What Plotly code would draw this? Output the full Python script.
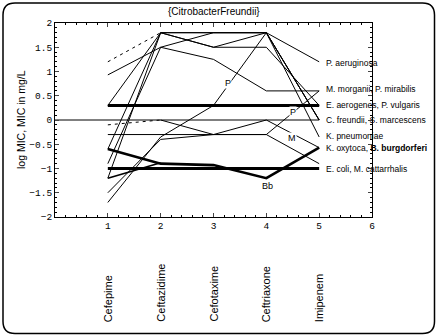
import plotly.graph_objects as go

# ---------------- data ----------------
DRUGS = ["Cefepime", "Ceftazidime", "Cefotaxime", "Ceftriaxone", "Imipenem"]
X_POS = [1, 2, 3, 4, 5]

# thick reference lines
E_AEROGENES_VULGARIS = [0.3, 0.3, 0.3, 0.3, 0.3]
E_COLI_CATARRHALIS = [-1.0, -1.0, -1.0, -1.0, -1.0]
B_BURGDORFERI = [-0.6, -0.9, -0.93, -1.2, -0.57]

# thin lines (log MIC per drug)
P_AERUGINOSA = [0.3, 1.8, 1.8, 1.8, 1.2]
C_FREUNDII = [-1.2, 1.8, 1.5, 1.8, 0.0]
S_MARCESCENS = [0.93, 1.5, 1.8, 1.8, 0.0]
P_VULGARIS = [-0.6, 1.8, 1.5, 1.5, 0.3]
M_MORGANII = [-0.9, 1.5, 1.25, 0.6, 0.6]
K_PNEUMONIAE = [None, 1.8, 1.8, 1.8, -0.35]
K_PNEUMONIAE_DASH = [1.2, 1.8, None, None, None]
K_OXYTOCA = [-0.3, -0.3, -0.3, -0.3, -0.9]
M_CATARRHALIS = [None, 0.0, -0.3, 0.0, -0.57]
M_CATARRHALIS_DASH = [-0.1, 0.0, None, None, None]
P_MIRABILIS = [-1.7, -0.35, 0.3, 1.8, 0.0]
P_MIRABILIS_2 = [-1.5, -0.4, -0.3, -0.3, 0.6]
E_COLI_THIN = [-1.2, -0.88, None, None, None]

ZERO_X = [0, 5]
ZERO_Y = [0, 0]

RIGHT_LABELS = ["P. aeruginosa", "M. morganii, P. mirabilis", "E. aerogenes, P. vulgaris",
                "C. freundii, S. marcescens", "K. pneumoniae",
                "K. oxytoca, <b>B. burgdorferi</b>", "E. coli, M. cattarrhalis"]
RIGHT_LABEL_Y = [1.18, 0.64, 0.3, 0.0, -0.34, -0.57, -1.0]
RIGHT_LABEL_X = 5.1

INLINE_LABELS = ["P", "P", "M", "Bb"]
INLINE_X = [3.28, 4.5, 4.49, 4.02]
INLINE_Y = [0.76, 0.16, -0.37, -1.36]

Y_TICKS = [-2, -1.5, -1, -0.5, 0, 0.5, 1, 1.5, 2]
X_TICKS = [1, 2, 3, 4, 5, 6]

# ---------------- figure ----------------
W, H = 437, 336
ML, MR, MT, MB = 55, 65, 23, 119
PW, PH = W - ML - MR, H - MT - MB

fig = go.Figure()

def add_line(y, width=1, dash="solid", x=X_POS):
    fig.add_trace(go.Scatter(x=x, y=y, mode="lines",
                             line=dict(color="black", width=width, dash=dash),
                             connectgaps=False, hoverinfo="skip", showlegend=False))

add_line(ZERO_Y, x=ZERO_X)
for s in [P_AERUGINOSA, C_FREUNDII, S_MARCESCENS, P_VULGARIS, M_MORGANII,
          K_PNEUMONIAE, K_OXYTOCA, M_CATARRHALIS, P_MIRABILIS, P_MIRABILIS_2]:
    add_line(s)
add_line(E_COLI_THIN, width=1.6)
add_line(K_PNEUMONIAE_DASH, dash="3px,4px")
add_line(M_CATARRHALIS_DASH, dash="3px,4px")
add_line(E_AEROGENES_VULGARIS, width=3)
add_line(E_COLI_CATARRHALIS, width=3)
add_line(B_BURGDORFERI, width=2.6)

lab_font = dict(family="Liberation Sans, Arial", size=8.5, color="black")
for t, yv in zip(RIGHT_LABELS, RIGHT_LABEL_Y):
    fig.add_annotation(x=RIGHT_LABEL_X, y=yv, text=t, showarrow=False,
                       xanchor="left", yanchor="middle", font=lab_font)
for t, xv, yv in zip(INLINE_LABELS, INLINE_X, INLINE_Y):
    fig.add_annotation(x=xv, y=yv, text=t, showarrow=False,
                       xanchor="center", yanchor="middle", bgcolor="white", borderpad=0,
                       font=dict(family="Liberation Sans, Arial", size=9, color="black"))

def py(Y):
    return (H - MB - Y) / PH

def px(X):
    return (X - ML) / PW

# drug names below the axis, rotated
for d, xv in zip(DRUGS, X_POS):
    fig.add_annotation(x=xv, xref="x", y=py(324), yref="paper", text=d,
                       textangle=-90, showarrow=False, xanchor="center", yanchor="bottom",
                       font=dict(family="Liberation Sans, Arial", size=11, color="black"))

# title & y-axis title
fig.add_annotation(x=0.5, y=py(12), xref="paper", yref="paper", text="{CitrobacterFreundii}",
                   showarrow=False, xanchor="center", yanchor="middle",
                   font=dict(family="Liberation Sans, Arial", size=10, color="black"))
fig.add_annotation(x=px(21), y=py(120), xref="paper", yref="paper",
                   text="log MIC, MIC in mg/L", textangle=-90, showarrow=False,
                   xanchor="center", yanchor="middle",
                   font=dict(family="Liberation Sans, Arial", size=10.5, color="black"))

# rounded outer border
x0, x1, yt, yb, r = 3, 434.5, 3, 333.5, 12
rx, ry = r / PW, r / PH
X0, X1, YT, YB = px(x0), px(x1), py(yt), py(yb)
path = (f"M {X0+rx},{YT} L {X1-rx},{YT} Q {X1},{YT} {X1},{YT-ry} "
        f"L {X1},{YB+ry} Q {X1},{YB} {X1-rx},{YB} "
        f"L {X0+rx},{YB} Q {X0},{YB} {X0},{YB+ry} "
        f"L {X0},{YT-ry} Q {X0},{YT} {X0+rx},{YT} Z")
fig.add_shape(type="path", path=path, xref="paper", yref="paper",
              line=dict(color="black", width=1.5))

tick_font = dict(family="Liberation Mono, Courier New", size=9.5, color="black")
fig.update_xaxes(range=[0, 6], tickvals=X_TICKS, ticks="inside", ticklen=4,
                 showline=True, linecolor="black", linewidth=1, mirror="ticks",
                 showgrid=False, zeroline=False, tickfont=tick_font,
                 minor=dict(dtick=0.2, ticks="inside", ticklen=2, tickcolor="black", showgrid=False))
fig.update_yaxes(range=[-2, 2], tickvals=Y_TICKS, ticks="inside", ticklen=4,
                 showline=True, linecolor="black", linewidth=1, mirror="ticks",
                 showgrid=False, zeroline=False, tickfont=tick_font,
                 minor=dict(dtick=0.1, ticks="inside", ticklen=2, tickcolor="black", showgrid=False))

fig.update_layout(width=W, height=H, margin=dict(l=ML, r=MR, t=MT, b=MB),
                  plot_bgcolor="white", paper_bgcolor="white", showlegend=False)

fig.write_html("out.html")
